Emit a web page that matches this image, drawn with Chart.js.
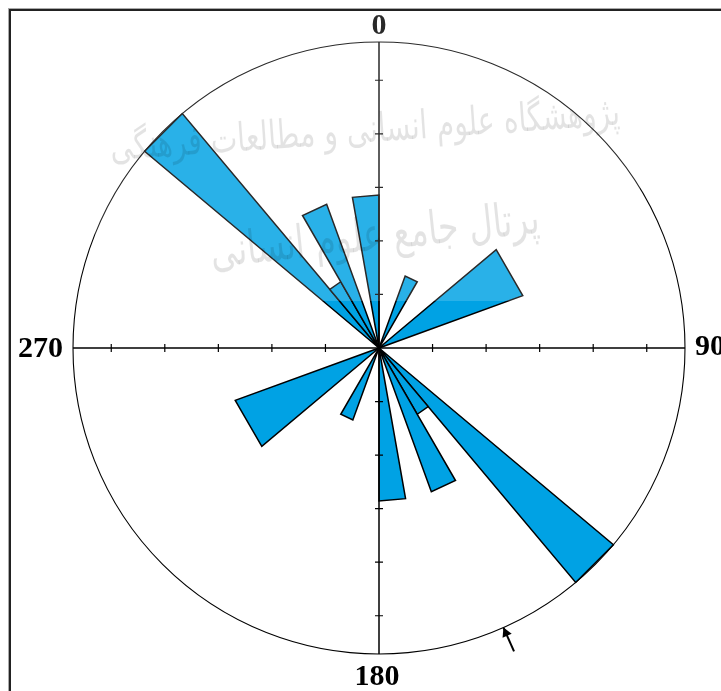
<!DOCTYPE html>
<html>
<head>
<meta charset="utf-8">
<title>Rose diagram</title>
<script src="https://cdn.jsdelivr.net/npm/chart.js@4/dist/chart.umd.min.js"></script>
<style>
    html, body { margin: 0; padding: 0; background: #fff; }
    #wrap { width: 721px; height: 691px; }
</style>
</head>
<body>
<div id="wrap"><canvas id="rose" width="721" height="691"></canvas></div>
<script>
// ===== data: 10 degree bins, clockwise from north (bidirectional rose) =====
const binWidth = 10;
const binStart = [0, 10, 20, 30, 40, 50, 60, 70, 80, 90, 100, 110, 120, 130, 140, 150, 160, 170,
                  180, 190, 200, 210, 220, 230, 240, 250, 260, 270, 280, 290, 300, 310, 320, 330, 340, 350];
const binCounts = [0, 0, 1, 0, 0, 2, 2, 0, 0, 0, 0, 0, 0, 4, 1, 2, 0, 2,
                   0, 0, 1, 0, 0, 2, 2, 0, 0, 0, 0, 0, 0, 4, 1, 2, 0, 2];
const roseMax = 4;          // outer circle
const tickStep = 0.7;       // spacing of the axis ticks (5 %)
const axisAngles = [0, 90, 180, 270];
const axisLabels = ["0", "90", "180", "270"];
const meanDirection = 156;  // arrow on the circle

// join neighbouring bins of equal count into one petal
const petals = [];
binCounts.forEach((c, i) => {
    const last = petals[petals.length - 1];
    if (last && last.count === c) {
        last.width += binWidth;
    } else {
        petals.push({ start: binStart[i], width: binWidth, count: c });
    }
});

const roseAxes = {
    id: "roseAxes",
    afterDatasetsDraw(chart) {
        const ctx = chart.ctx;
        const s = chart.scales.r;
        const cx = s.xCenter, cy = s.yCenter;
        const R = s.getDistanceFromCenterForValue(roseMax);
        ctx.save();
        ctx.strokeStyle = "#000";

        // outer circle
        ctx.lineWidth = 1.1;
        ctx.beginPath();
        ctx.arc(cx, cy, R, 0, Math.PI * 2);
        ctx.stroke();

        // cross
        ctx.lineWidth = 1.5;
        ctx.beginPath();
        ctx.moveTo(cx, cy - R); ctx.lineTo(cx, cy + R);
        ctx.moveTo(cx - R, cy); ctx.lineTo(cx + R, cy);
        ctx.stroke();

        // ticks
        ctx.lineWidth = 1.2;
        ctx.beginPath();
        for (let v = tickStep; v < roseMax; v += tickStep) {
            const d = s.getDistanceFromCenterForValue(v);
            ctx.moveTo(cx - 4, cy - d); ctx.lineTo(cx + 4, cy - d);
            ctx.moveTo(cx - 4, cy + d); ctx.lineTo(cx + 4, cy + d);
            ctx.moveTo(cx - d, cy - 4); ctx.lineTo(cx - d, cy + 4);
            ctx.moveTo(cx + d, cy - 4); ctx.lineTo(cx + d, cy + 4);
        }
        ctx.stroke();

        // direction labels
        ctx.fillStyle = "#000";
        ctx.font = 'bold 30px "Liberation Serif", "Times New Roman", serif';
        ctx.textBaseline = "alphabetic";
        axisAngles.forEach((a, i) => {
            const t = axisLabels[i];
            if (a === 0) {
                ctx.textAlign = "center";
                ctx.fillText(t, cx, cy - R - 8);
            } else if (a === 180) {
                ctx.textAlign = "center";
                ctx.fillText(t, cx - 2, cy + R + 31);
            } else if (a === 90) {
                ctx.textAlign = "left";
                ctx.fillText(t, cx + R + 10, cy + 7);
            } else {
                ctx.textAlign = "right";
                ctx.fillText(t, cx - R - 10, cy + 9);
            }
        });

        // mean direction arrow
        const rad = (meanDirection - 90) * Math.PI / 180;
        const ux = Math.cos(rad), uy = Math.sin(rad);
        const tipX = cx + ux * R, tipY = cy + uy * R;
        const tailX = cx + ux * (R + 26), tailY = cy + uy * (R + 26);
        ctx.lineWidth = 2;
        ctx.beginPath();
        ctx.moveTo(tailX, tailY); ctx.lineTo(tipX, tipY);
        ctx.stroke();
        const px = -uy, py = ux;
        ctx.beginPath();
        ctx.moveTo(tipX, tipY);
        ctx.lineTo(tipX + ux * 9 + px * 5, tipY + uy * 9 + py * 5);
        ctx.lineTo(tipX + ux * 9 - px * 5, tipY + uy * 9 - py * 5);
        ctx.closePath();
        ctx.fill();
        ctx.restore();
    },
    afterDraw(chart) {
        const ctx = chart.ctx;
        ctx.save();
        // faint watermark
        ctx.fillStyle = "rgba(255,255,255,0.16)";
        ctx.fillRect(95, 0, 545, 301);
        ctx.fillStyle = "rgba(0,0,0,0.11)";
        ctx.textAlign = "center";
        ctx.textBaseline = "middle";
        const marks = [
            { text: "پژوهشگاه علوم انسانی و مطالعات فرهنگی", x: 365, y: 132, w: 510, rot: -4 },
            { text: "پرتال جامع علوم انسانی", x: 375, y: 238, w: 330, rot: -6 }
        ];
        marks.forEach(m => {
            ctx.font = '40px "DejaVu Sans", sans-serif';
            const size = 40 * m.w / ctx.measureText(m.text).width;
            ctx.font = size.toFixed(1) + 'px "DejaVu Sans", sans-serif';
            ctx.save();
            ctx.translate(m.x, m.y);
            ctx.rotate(m.rot * Math.PI / 180);
            ctx.scale(1, 1.4);
            ctx.fillText(m.text, 0, 0);
            ctx.restore();
        });

        // frame
        ctx.fillStyle = "#aaa";
        ctx.fillRect(8, 8, 713, 1);
        ctx.fillRect(8, 8, 1, 683);
        ctx.fillStyle = "#222";
        ctx.fillRect(9, 9, 712, 2);
        ctx.fillRect(9, 9, 2, 682);
        ctx.restore();
    }
};

const ctx = document.getElementById("rose").getContext("2d");
new Chart(ctx, {
    type: "polarArea",
    data: {
        labels: petals.map(p => p.start + "-" + (p.start + p.width)),
        datasets: [{
            data: petals.map(p => p.count),
            angle: c => petals[c.dataIndex].width,
            backgroundColor: "#00a2e4",
            borderColor: "#000",
            borderWidth: c => (petals[c.dataIndex].count > 0 ? 1.5 : 0),
            borderJoinStyle: "miter",
            circular: false
        }]
    },
    options: {
        responsive: false,
        animation: false,
        devicePixelRatio: 1,
        layout: { padding: { left: 73, right: 35, top: 42, bottom: 36 } },
        plugins: {
            legend: { display: false },
            tooltip: { enabled: false }
        },
        scales: {
            r: {
                min: 0,
                max: roseMax,
                startAngle: 0,
                ticks: { display: false },
                grid: { display: false },
                angleLines: { display: false },
                pointLabels: { display: false }
            }
        }
    },
    plugins: [roseAxes]
});
</script>
</body>
</html>
